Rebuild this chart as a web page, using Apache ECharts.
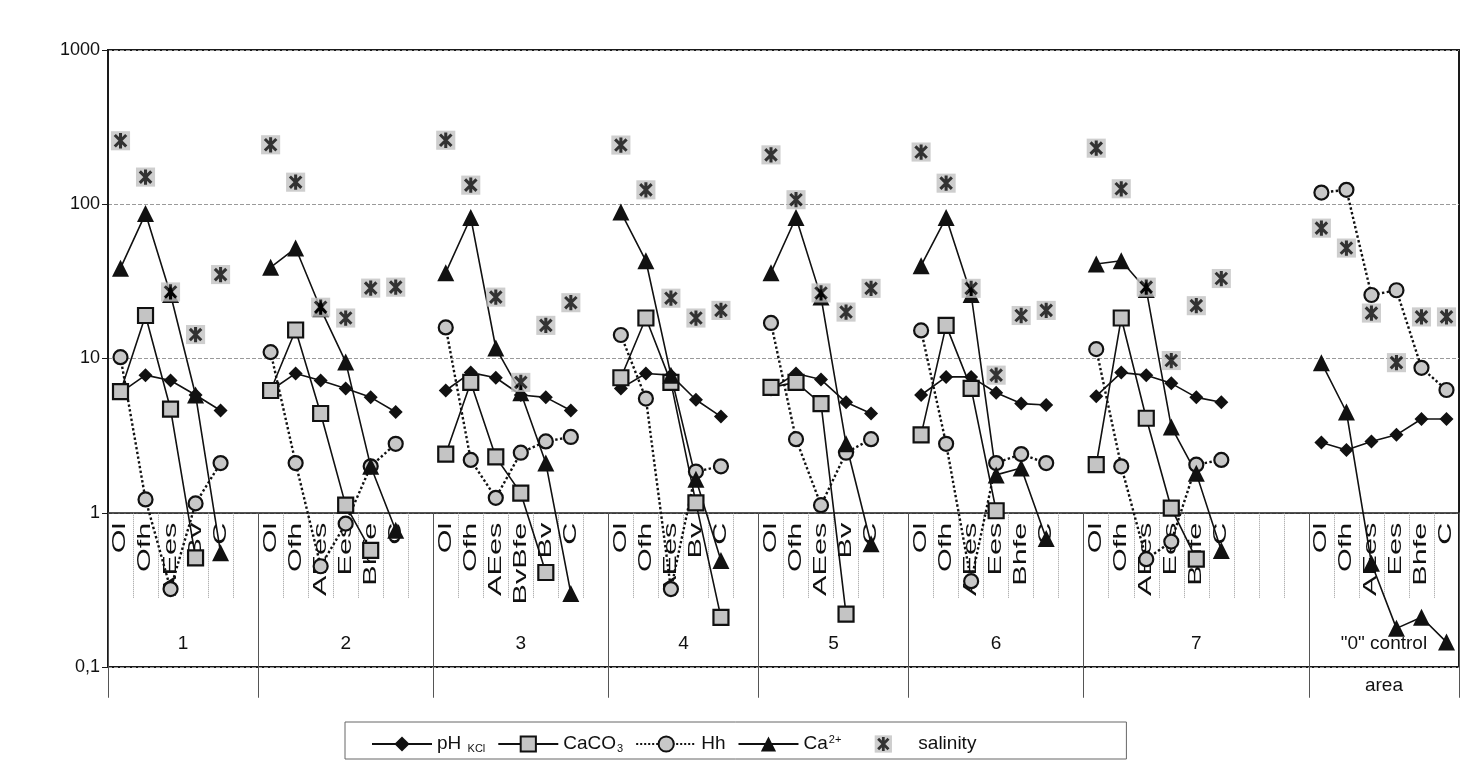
<!DOCTYPE html>
<html>
<head>
<meta charset="utf-8">
<script src="https://cdn.jsdelivr.net/npm/echarts@6/dist/echarts.min.js"></script>
<style>
html,body{margin:0;padding:0;background:#fff;}
#chart{width:1466px;height:765px;}
</style>
</head>
<body>
<div id="chart"></div>
<script>
// ---- categories (horizons, 54 slots) ----
const horizons = [
  'Ol','Ofh','AEes','Bv','C','',
  'Ol','Ofh','AEes','Ees','Bhfe','C','',
  'Ol','Ofh','AEes','BvBfe','Bv','C','',
  'Ol','Ofh','AEes','Bv','C','',
  'Ol','Ofh','AEes','Bv','C','',
  'Ol','Ofh','AEes','Ees','Bhfe','C','',
  'Ol','Ofh','AEes','Ees','Bhfe','C','','','',
  'Ol','Ofh','AEes','Ees','Bhfe','C'
];
// group names and their slot boundaries
const groupNames = ['1','2','3','4','5','6','7','"0" control\narea'];
const groupBounds = [0,6,13,20,26,32,39,48,54];

// ---- series values ----
const pH = [
  6.0,7.8,7.2,5.8,4.6,null,
  6.2,8.0,7.2,6.4,5.6,4.5,null,
  6.2,8.1,7.5,5.8,5.6,4.6,null,
  6.4,8.0,7.8,5.4,4.2,null,
  6.3,8.0,7.3,5.2,4.4,null,
  5.8,7.6,7.6,6.0,5.1,5.0,null,
  5.7,8.1,7.8,6.9,5.6,5.2,null,null,null,
  2.85,2.55,2.9,3.2,4.05,4.05
];
const caco3 = [
  6.1,19,4.7,0.51,null,null,
  6.2,15.3,4.4,1.12,0.57,null,null,
  2.4,7.0,2.3,1.34,0.41,null,null,
  7.5,18.3,7.0,1.16,0.21,null,
  6.5,7.0,5.1,0.22,null,null,
  3.2,16.4,6.4,1.03,null,null,null,
  2.05,18.3,4.1,1.07,0.5,null,null,null,null,
  null,null,null,null,null,null
];
const hh = [
  10.2,1.22,0.32,1.15,2.1,null,
  11,2.1,0.45,0.85,2.0,2.8,null,
  15.9,2.2,1.25,2.45,2.9,3.1,null,
  14.2,5.5,0.32,1.85,2.0,null,
  17,3.0,1.12,2.45,3.0,null,
  15.2,2.8,0.36,2.1,2.4,2.1,null,
  11.5,2.0,0.5,0.65,2.05,2.2,null,null,null,
  119,124,25.8,27.7,8.7,6.25
];
const ca = [
  38.5,87,26,5.8,0.55,null,
  39,52,21,9.5,2.0,0.77,null,
  36,82,11.7,6.0,2.1,0.30,null,
  89,43,7.8,1.65,0.49,null,
  36,82,25,2.8,0.63,null,
  40,82,26,1.76,1.95,0.68,null,
  41,43,28,3.6,1.8,0.57,null,null,null,
  9.4,4.5,0.47,0.178,0.21,0.145
];
const salinity = [
  258,150,27,14.3,35,null,
  243,139,21.5,18.3,28.6,29,null,
  260,133,25,7.0,16.4,23,null,
  242,124,24.6,18.3,20.5,null,
  209,107,26.6,20,28.5,null,
  218,137,28.5,7.8,19,20.5,null,
  231,126,29,9.7,22,33,null,null,null,
  70,52,19.7,9.4,18.6,18.6
];
const yTicks = [0.1,1,10,100,1000];
const axisCross = 1; // category axis crosses the log axis at 1

// ---- build chart ----
const groupCenters = groupNames.map((n,i)=>(groupBounds[i]+groupBounds[i+1])/2);
const FONT = '"Liberation Sans", Arial, sans-serif';
const starSvg = "<svg xmlns='http://www.w3.org/2000/svg' width='22' height='22' viewBox='0 0 22 22'>" +
  "<rect x='1' y='1' width='20' height='20' fill='#c2c2c2'/>" +
  "<path d='M11 3V19M5 5L17 17M17 5L5 17' stroke='#000' stroke-width='3.2' fill='none'/></svg>";
const starSymbol = 'image://data:image/svg+xml;utf8,' + encodeURIComponent(starSvg);

const plotTop = 50, plotBottomPx = 667;
const decade = (plotBottomPx - plotTop) / (Math.log10(yTicks[yTicks.length-1]) - Math.log10(yTicks[0]));
const axisOffset = -decade * (Math.log10(axisCross) - Math.log10(yTicks[0]));

const chart = echarts.init(document.getElementById('chart'), null, {renderer:'canvas'});
chart.setOption({
  animation:false,
  backgroundColor:'#fff',
  textStyle:{fontFamily:FONT},
  grid:{left:108,right:7,top:plotTop,bottom:765-plotBottomPx,show:true,borderColor:'#1a1a1a',borderWidth:2,backgroundColor:'transparent'},
  legend:{
    left:345, top:722,
    padding:[12,150,5,26],
    borderColor:'#666', borderWidth:1,
    itemWidth:60, itemHeight:19, itemGap:12,
    data:['pH KCl','CaCO3','Hh','Ca2+','salinity'],
    formatter:function(n){
      if(n==='pH KCl') return '{t|pH }{s|KCl}';
      if(n==='CaCO3') return '{t|CaCO}{s|3}';
      if(n==='Ca2+') return '{t|Ca}{p|2+}';
      return '{t|'+n+'}';
    },
    textStyle:{color:'#111',fontFamily:FONT,
      rich:{
        t:{fontSize:19,fontFamily:FONT,color:'#111'},
        s:{fontSize:11,fontFamily:FONT,color:'#111',padding:[9,0,0,1]},
        p:{fontSize:11,fontFamily:FONT,color:'#111',padding:[0,0,9,1]}
      }}
  },
  xAxis:[
    {
      type:'category', data:horizons, position:'bottom', offset:axisOffset,
      boundaryGap:true,
      axisLine:{show:true,lineStyle:{color:'#1a1a1a',width:1.5}},
      axisTick:{show:true,interval:0,length:86,lineStyle:{color:'#9a9a9a',type:'dotted',width:1}},
      axisLabel:{show:false,interval:0},
      splitLine:{show:false}
    },
    {
      type:'value', min:0, max:horizons.length, position:'bottom', offset:axisOffset,
      axisLine:{show:false},
      splitLine:{show:false},
      axisTick:{show:true,customValues:groupBounds,length:185,lineStyle:{color:'#555',width:1}},
      axisLabel:{customValues:groupCenters,margin:110,fontSize:19,lineHeight:42,color:'#111',fontFamily:FONT,
        formatter:function(v){const i=groupCenters.indexOf(v);return i>=0?groupNames[i]:'';}}
    }
  ],
  yAxis:{
    type:'log', logBase:10, min:yTicks[0], max:yTicks[yTicks.length-1],
    axisLine:{show:true,lineStyle:{color:'#1a1a1a',width:2}},
    axisTick:{show:true,length:6,lineStyle:{color:'#1a1a1a'}},
    axisLabel:{fontSize:18,color:'#111',margin:8,fontFamily:FONT,
      formatter:function(v){return v<0.5?'0,1':String(Math.round(v));}},
    splitLine:{show:true,lineStyle:{color:'#9a9a9a',type:'dashed',width:1}},
    minorTick:{show:false}
  },
  series:[
    {name:'horizon labels',type:'custom',xAxisIndex:0,yAxisIndex:0,clip:false,z:1,silent:true,
     data:horizons.map((h,i)=>[i,axisCross]),
     renderItem:function(params,api){
       const p = api.coord([api.value(0), api.value(1)]);
       return {type:'text', x:p[0], y:p[1]+10, rotation:Math.PI/2, scaleX:1.7,
         style:{text:horizons[params.dataIndex], fontSize:18, fontFamily:FONT, fill:'#111',
                align:'right', verticalAlign:'middle'}};
     }},
    {name:'pH KCl',type:'line',xAxisIndex:0,data:pH,connectNulls:false,z:3,showAllSymbol:true,
     symbol:'diamond',symbolSize:14,
     itemStyle:{color:'#111'},lineStyle:{color:'#111',width:1.6}},
    {name:'CaCO3',type:'line',xAxisIndex:0,data:caco3,connectNulls:false,z:3,showAllSymbol:true,
     symbol:'rect',symbolSize:15,
     itemStyle:{color:'#c4c4c4',borderColor:'#111',borderWidth:2.2},lineStyle:{color:'#111',width:1.6}},
    {name:'Hh',type:'line',xAxisIndex:0,data:hh,connectNulls:false,z:3,showAllSymbol:true,
     symbol:'circle',symbolSize:14,
     itemStyle:{color:'#c8c8c8',borderColor:'#111',borderWidth:2.2},lineStyle:{color:'#111',width:2.4,type:'dotted'}},
    {name:'Ca2+',type:'line',xAxisIndex:0,data:ca,connectNulls:false,z:3,showAllSymbol:true,
     symbol:'triangle',symbolSize:17,
     itemStyle:{color:'#111'},lineStyle:{color:'#111',width:1.6}},
    {name:'salinity',type:'scatter',xAxisIndex:0,data:salinity,
     symbol:starSymbol,symbolSize:21,z:5}
  ]
});
</script>
</body>
</html>
